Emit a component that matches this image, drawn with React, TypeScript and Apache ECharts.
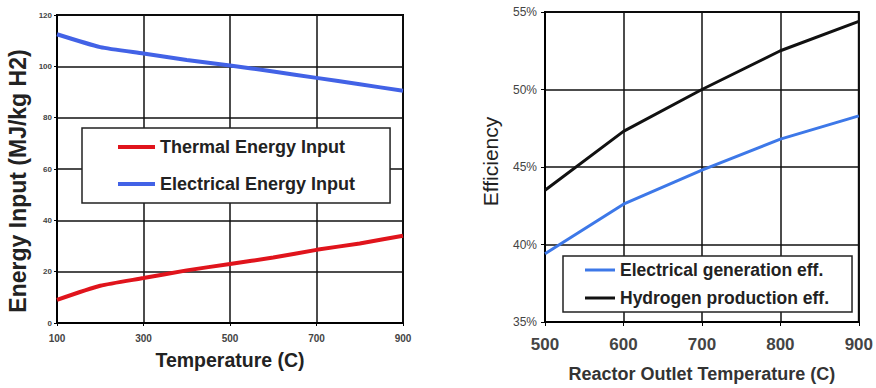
import React, { useEffect, useRef } from "react";
import * as echarts from "echarts";

const leftTemps = [100, 200, 300, 400, 500, 600, 700, 800, 900];
const thermalInput = [9, 14.5, 17.5, 20.5, 23, 25.5, 28.5, 31, 34];
const electricalInput = [112.5, 107.5, 105, 102.5, 100.3, 98, 95.5, 93, 90.5];

const rightTemps = [500, 600, 700, 800, 900];
const elecGenEff = [39.4, 42.6, 44.8, 46.8, 48.3];
const h2ProdEff = [43.5, 47.3, 50, 52.5, 54.4];

const FONT = "Liberation Sans, Arial, sans-serif";

export default function App() {
  const ref = useRef<HTMLDivElement>(null);
  useEffect(() => {
    const chart = echarts.init(ref.current!, null, { renderer: "svg" });
    const pair = (xs: number[], ys: number[]) => xs.map((x, i) => [x, ys[i]]);
    chart.setOption({
      animation: false,
      backgroundColor: "#fff",
      textStyle: { fontFamily: FONT },
      grid: [
        { left: 57, top: 15, width: 346, height: 308, show: true, borderColor: "#000", borderWidth: 2, backgroundColor: "transparent" },
        { left: 545, top: 12, width: 315, height: 313, show: true, borderColor: "#000", borderWidth: 2, backgroundColor: "transparent" },
      ],
      xAxis: [
        {
          gridIndex: 0, type: "value", min: 100, max: 900, interval: 200,
          axisLine: { lineStyle: { color: "#000", width: 2 } },
          axisTick: { show: true, length: 3, lineStyle: { color: "#000" } },
          axisLabel: { fontSize: 10, fontWeight: "bold", color: "#444", margin: 10, fontFamily: FONT },
          splitLine: { show: true, lineStyle: { color: "#111", width: 1.5 } },
          name: "Temperature (C)", nameLocation: "middle", nameGap: 27,
          nameTextStyle: { fontSize: 19.5, fontWeight: "bold", color: "#222", fontFamily: FONT },
        },
        {
          gridIndex: 1, type: "value", min: 500, max: 900, interval: 100,
          axisLine: { lineStyle: { color: "#000", width: 2 } },
          axisTick: { show: true, length: 4, lineStyle: { color: "#000" } },
          axisLabel: { fontSize: 17, fontWeight: "bold", color: "#444", margin: 14, fontFamily: FONT },
          splitLine: { show: true, lineStyle: { color: "#111", width: 1.5 } },
          name: "Reactor Outlet Temperature (C)", nameLocation: "middle", nameGap: 43,
          nameTextStyle: { fontSize: 18, fontWeight: "bold", color: "#333", fontFamily: FONT },
        },
      ],
      yAxis: [
        {
          gridIndex: 0, type: "value", min: 0, max: 120, interval: 20,
          axisLine: { show: true, lineStyle: { color: "#000", width: 2 } },
          axisTick: { show: true, length: 3, lineStyle: { color: "#000" } },
          axisLabel: { fontSize: 8, fontWeight: "bold", color: "#444", margin: 5, fontFamily: FONT },
          splitLine: { show: true, lineStyle: { color: "#111", width: 1.5 } },
          name: "Energy Input (MJ/kg H2)", nameLocation: "middle", nameGap: 28,
          nameTextStyle: { fontSize: 23, fontWeight: "bold", color: "#222", fontFamily: FONT, padding: [0, 24, 0, 0] },
        },
        {
          gridIndex: 1, type: "value", min: 35, max: 55, interval: 5,
          axisLine: { show: true, lineStyle: { color: "#000", width: 2 } },
          axisTick: { show: true, length: 4, lineStyle: { color: "#000" } },
          axisLabel: { fontSize: 12, color: "#444", margin: 8, formatter: (v: number) => `${v}%`, fontFamily: FONT },
          splitLine: { show: true, lineStyle: { color: "#111", width: 1.5 } },
          name: "Efficiency", nameLocation: "middle", nameGap: 44,
          nameTextStyle: { fontSize: 21, color: "#222", fontFamily: FONT, padding: [0, 0, 0, 11] },
        },
      ],
      legend: [
        {
          data: ["Thermal Energy Input", "Electrical Energy Input"],
          orient: "vertical", left: 82, top: 128,
          padding: [10, 35, 10, 36], itemGap: 19,
          icon: "rect", itemWidth: 37, itemHeight: 4,
          backgroundColor: "#fff", borderColor: "#222", borderWidth: 1.5, borderRadius: 0,
          textStyle: { fontSize: 18, fontWeight: "bold", color: "#222", fontFamily: FONT },
        },
        {
          data: ["Electrical generation eff.", "Hydrogen production eff."],
          orient: "vertical", left: 563, top: 256,
          padding: [5, 23, 5, 22], itemGap: 10,
          icon: "rect", itemWidth: 30, itemHeight: 3,
          backgroundColor: "#fff", borderColor: "#222", borderWidth: 1.5, borderRadius: 0,
          textStyle: { fontSize: 17.5, fontWeight: "bold", color: "#222", fontFamily: FONT },
        },
      ],
      series: [
        {
          name: "Electrical Energy Input", type: "line", xAxisIndex: 0, yAxisIndex: 0,
          data: pair(leftTemps, electricalInput), showSymbol: false, smooth: 0.2,
          lineStyle: { color: "#4262e6", width: 4 }, itemStyle: { color: "#4262e6" },
        },
        {
          name: "Thermal Energy Input", type: "line", xAxisIndex: 0, yAxisIndex: 0,
          data: pair(leftTemps, thermalInput), showSymbol: false, smooth: 0.2,
          lineStyle: { color: "#e0141c", width: 4 }, itemStyle: { color: "#e0141c" },
        },
        {
          name: "Electrical generation eff.", type: "line", xAxisIndex: 1, yAxisIndex: 1,
          data: pair(rightTemps, elecGenEff), showSymbol: false,
          lineStyle: { color: "#3d78e8", width: 3 }, itemStyle: { color: "#3d78e8" },
        },
        {
          name: "Hydrogen production eff.", type: "line", xAxisIndex: 1, yAxisIndex: 1,
          data: pair(rightTemps, h2ProdEff), showSymbol: false,
          lineStyle: { color: "#111", width: 3 }, itemStyle: { color: "#111" },
        },
      ],
    });
    return () => chart.dispose();
  }, []);
  return (
    <div
      ref={ref}
      style={{ position: "fixed", left: 0, top: 0, width: 876, height: 388, background: "#fff" }}
    />
  );
}
